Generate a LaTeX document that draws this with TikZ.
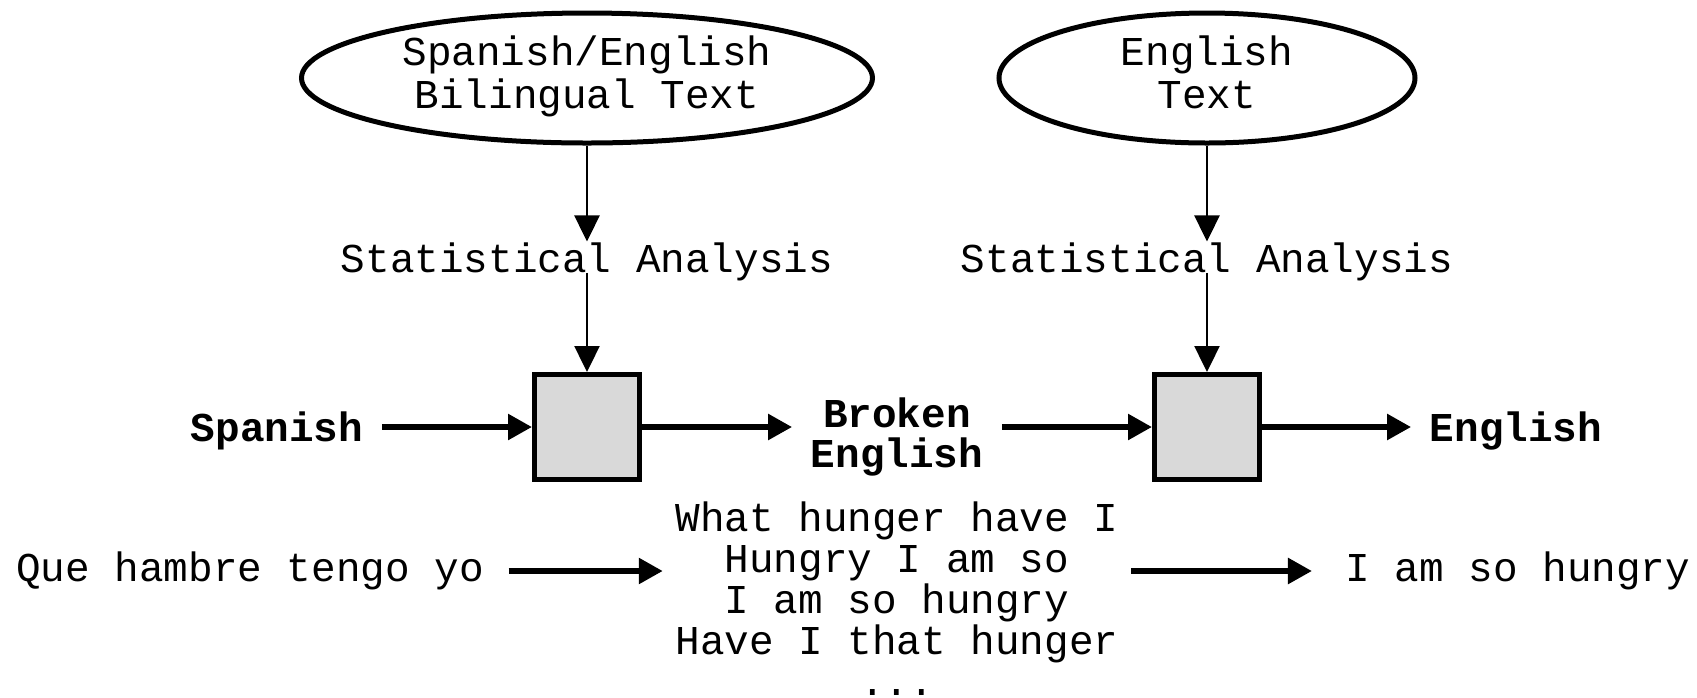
\documentclass[tikz,border=0pt]{standalone}
\usepackage{fontspec}
\setmonofont{Liberation Mono}
\usetikzlibrary{shapes.geometric,arrows.meta}

\newcommand{\diagfont}{\ttfamily\fontsize{10.25pt}{10.25pt}\selectfont}
\tikzstyle{source-text}=[ellipse, draw, line width=1.25pt, inner sep=0pt, align=center, minimum height=32.5pt, text depth=3pt, font={\ttfamily\fontsize{10.25pt}{10.9pt}\selectfont}]
\tikzstyle{analysis}=[inner sep=0pt, text depth=0pt, anchor=base, font=\diagfont]
\tikzstyle{model-box}=[rectangle, draw, line width=1.25pt, fill=BoxGray, minimum size=26.25pt, inner sep=0pt]
\tikzstyle{stage-label}=[inner xsep=4.5pt, inner ysep=0pt, align=center, font={\ttfamily\bfseries\fontsize{10.25pt}{10pt}\selectfont}]
\tikzstyle{example-text}=[inner sep=0pt, align=center, font=\diagfont]
\tikzstyle{feed}=[-{Triangle[length=6.5pt,width=6.25pt]}, line width=0.6pt]
\tikzstyle{flow}=[-{Triangle[length=6pt,width=6.25pt]}, line width=1.4pt]
\definecolor{BoxGray}{HTML}{D9D9D9}

\begin{document}
\begin{tikzpicture}[x=0.25pt, y=-0.25pt]
      \useasboundingbox (0,0) rectangle (1697,698);

      % training corpora and the two models
      \node (src-bilingual) at (587,78) [source-text, minimum width=142.75pt] {Spanish/English\\Bilingual Text};
      \node (src-english) at (1207,78) [source-text, minimum width=104pt] {English\\Text};
      \node (stat-tm) at (587,272) [analysis] {Statistical Analysis};
      \node (stat-lm) at (1207,272) [analysis] {Statistical Analysis};
      \node (box-tm) at (587,427) [model-box] {};
      \node (box-lm) at (1207,427) [model-box] {};

      \draw[feed] (src-bilingual) -- (stat-tm.north);
      \draw[feed] (stat-tm.south) -- (box-tm);
      \draw[feed] (src-english) -- (stat-lm.north);
      \draw[feed] (stat-lm.south) -- (box-lm);

      % pipeline stages
      \node (stage-spanish) at (277,441) [stage-label, anchor=base] {Spanish};
      \node (stage-broken) at (897,437) [stage-label] {Broken\\English};
      \node (stage-english) at (1516,441) [stage-label, anchor=base] {English};

      \draw[flow] (stage-spanish.east |- box-tm.west) -- (box-tm.west);
      \draw[flow] (box-tm.east) -- (stage-broken.west |- box-tm.east);
      \draw[flow] (stage-broken.east |- box-lm.west) -- (box-lm.west);
      \draw[flow] (box-lm.east) -- (stage-english.west |- box-lm.east);

      % worked example
      \node (ex-input) at (250,571) [example-text] {Que hambre tengo yo};
      \node (ex-candidates) at (897,599) [example-text] {What hunger have I\\Hungry I am so\\I am so hungry\\Have I that hunger\\...};
      \node (ex-output) at (1518,571) [example-text] {I am so hungry};

      \draw[flow, shorten <=6pt, shorten >=3pt] (ex-input.east) -- (ex-candidates.west |- ex-input.east);
      \draw[flow, shorten <=3pt, shorten >=8.25pt] (ex-candidates.east |- ex-output.west) -- (ex-output.west);
\end{tikzpicture}
\end{document}
